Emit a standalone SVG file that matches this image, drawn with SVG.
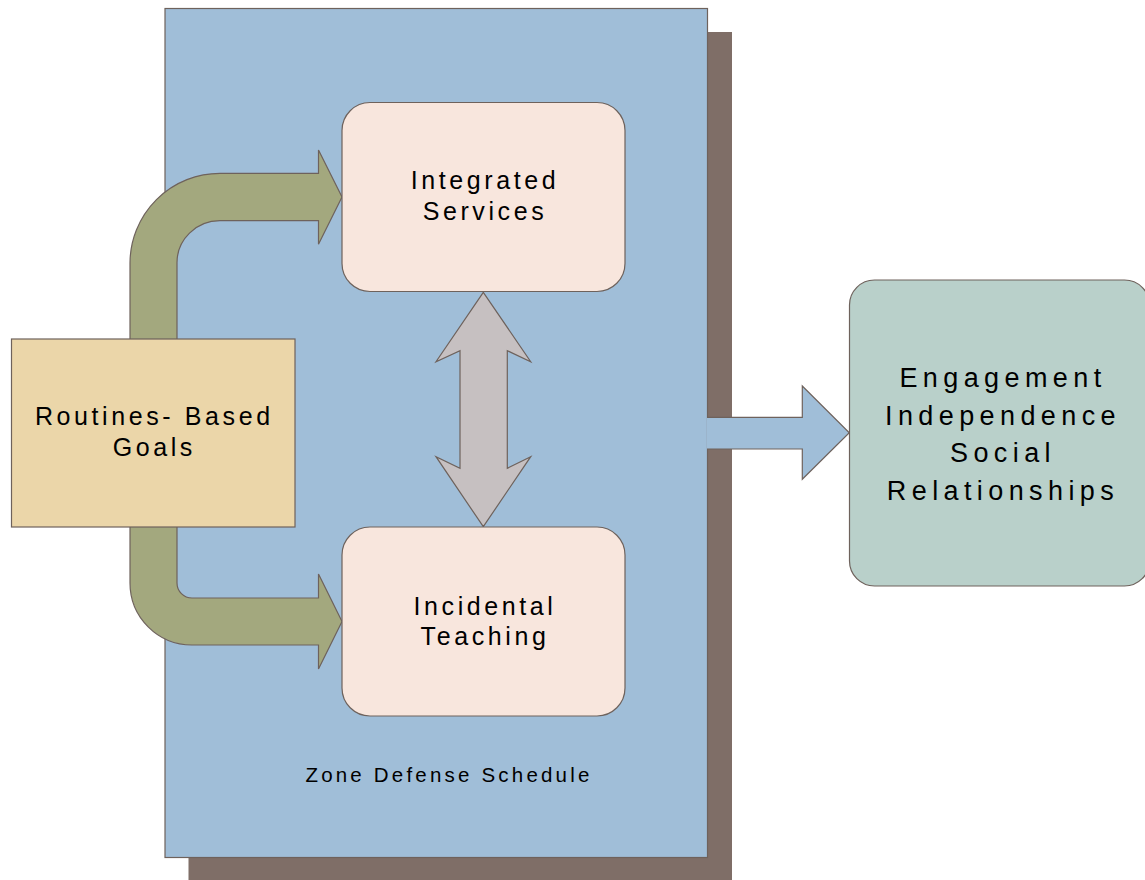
<svg xmlns="http://www.w3.org/2000/svg" width="1145" height="880" viewBox="0 0 1145 880">
<style>
  .st { stroke: #6E625C; stroke-width: 1.2; }
  text { font-family: "Liberation Sans", Arial, sans-serif; fill: #000; text-anchor: middle; }
  .t24 { font-size: 25px; letter-spacing: 3.6px; }
  .t26 { font-size: 27px; letter-spacing: 5.4px; }
  .t20 { font-size: 20.5px; letter-spacing: 3.2px; }
</style>
<rect width="1145" height="880" fill="#ffffff"/>
<g id="zone-defense-schedule">
  <rect x="188.5" y="32" width="543.5" height="850" fill="#7F6E67"/>
  <rect class="st" x="165" y="8.5" width="542.5" height="849" fill="#A0BED8"/>
  <text class="t20" x="449" y="782">Zone Defense Schedule</text>
</g>
<g id="connectors">
  <path class="st" fill="#A3A87E" d="M130 345 L130 263 A90 90 0 0 1 220 173.3 L318.5 173.3 L318.5 150 L342 197 L318.5 244.3 L318.5 220.7 L220 220.7 A43 42 0 0 0 177 263 L177 345 Z"/>
  <path class="st" fill="#A3A87E" d="M130 520 L130 583 A62 62 0 0 0 192 645 L318.5 645 L318.5 669 L342 621.5 L318.5 574 L318.5 598 L192 598 A15 15 0 0 1 177 583 L177 520 Z"/>
  <polygon class="st" fill="#C6C0C1" points="483.3,292.3 530.7,361.7 507.3,350.7 507.3,468.3 530.7,456.7 483.3,526.7 436,456.7 460,468.3 460,350.7 436,361.7"/>
  <path fill="#A0BED8" d="M707 417.3 L802.3 417.3 L802.3 386 L849.3 432.7 L802.3 479.3 L802.3 449 L707 449 Z"/>
  <path class="st" fill="none" d="M707 417.3 L802.3 417.3 L802.3 386 L849.3 432.7 L802.3 479.3 L802.3 449 L707 449"/>
</g>
<g id="routines-based-goals">
  <rect class="st" x="11.5" y="339" width="283.5" height="188" fill="#EBD6A9"/>
  <text class="t24" x="154.3" y="425">Routines- Based</text>
  <text class="t24" x="154.3" y="456">Goals</text>
</g>
<g id="integrated-services">
  <rect class="st" x="342" y="102.5" width="283" height="189" rx="28" fill="#F8E6DD"/>
  <text class="t24" x="485" y="188.5">Integrated</text>
  <text class="t24" x="485" y="220">Services</text>
</g>
<g id="incidental-teaching">
  <rect class="st" x="342" y="527" width="283" height="189" rx="28" fill="#F8E6DD"/>
  <text class="t24" x="485" y="614.5">Incidental</text>
  <text class="t24" x="485" y="645">Teaching</text>
</g>
<g id="outcomes">
  <rect class="st" x="849.5" y="280" width="300" height="306" rx="25" fill="#B9D0CA"/>
  <text class="t26" x="1003" y="386.5">Engagement</text>
  <text class="t26" x="1003" y="425">Independence</text>
  <text class="t26" x="1003" y="461.5">Social</text>
  <text class="t26" x="1003" y="500">Relationships</text>
</g>
</svg>
